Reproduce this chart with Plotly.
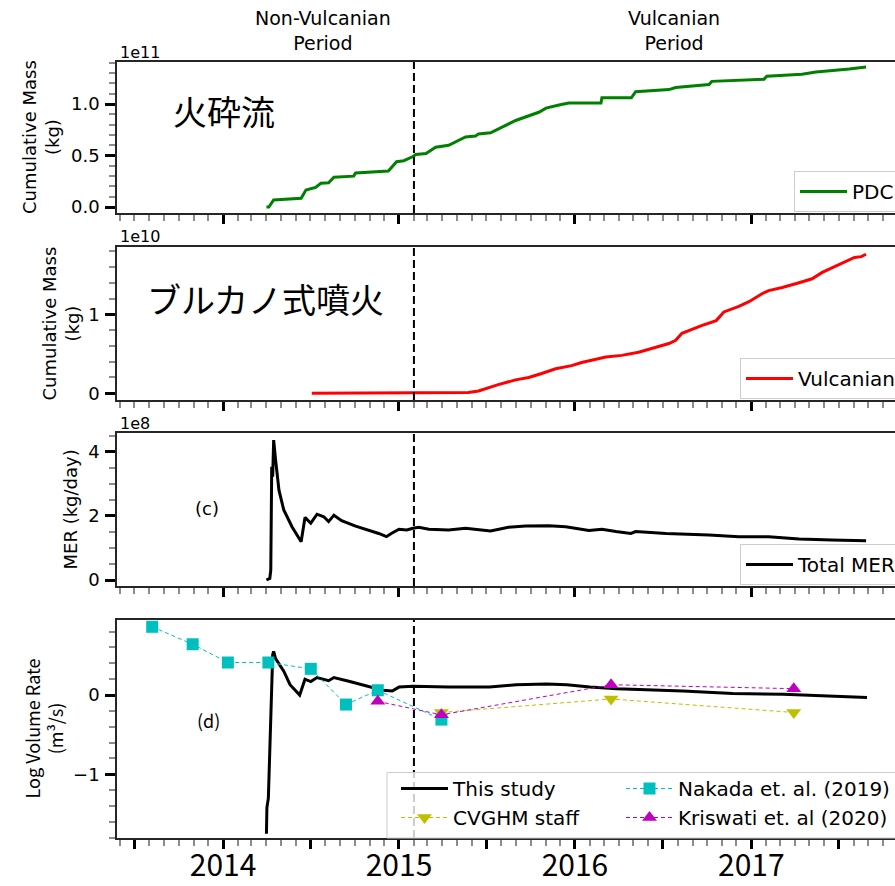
import plotly.graph_objects as go

# ---------------- data ----------------
# (a) cumulative PDC mass, kg
pdc_dates = ["2014-04-01", "2014-04-06", "2014-04-16", "2014-06-12", "2014-06-22", "2014-07-12",
             "2014-07-23", "2014-08-08", "2014-08-19", "2014-09-29", "2014-10-03", "2014-12-10",
             "2014-12-27", "2015-01-11", "2015-01-30", "2015-02-05", "2015-02-26", "2015-03-18",
             "2015-04-14", "2015-05-19", "2015-06-09", "2015-06-15", "2015-07-10", "2015-08-16",
             "2015-08-31", "2015-10-18", "2015-11-02", "2015-11-29", "2015-12-19", "2016-02-24",
             "2016-02-26", "2016-04-27", "2016-05-06", "2016-07-14", "2016-07-28", "2016-10-05",
             "2016-10-11", "2017-01-27", "2017-02-02", "2017-04-16", "2017-05-15", "2017-07-23",
             "2017-08-17", "2017-08-27"]
pdc_mass = [0.0, 0.0, 0.068e11, 0.085e11, 0.165e11, 0.19e11,
            0.23e11, 0.235e11, 0.29e11, 0.30e11, 0.33e11, 0.35e11,
            0.44e11, 0.45e11, 0.49e11, 0.51e11, 0.52e11, 0.58e11,
            0.60e11, 0.68e11, 0.69e11, 0.71e11, 0.72e11, 0.81e11,
            0.84e11, 0.92e11, 0.96e11, 0.99e11, 1.01e11, 1.01e11,
            1.06e11, 1.06e11, 1.12e11, 1.14e11, 1.16e11, 1.19e11,
            1.22e11, 1.24e11, 1.27e11, 1.29e11, 1.31e11, 1.34e11,
            1.35e11, 1.36e11]

# (b) cumulative Vulcanian mass, kg
vul_dates = ["2014-07-04", "2015-05-25", "2015-06-15", "2015-06-29", "2015-07-26", "2015-08-31",
             "2015-09-27", "2015-10-24", "2015-11-22", "2015-12-25", "2016-01-15", "2016-03-05",
             "2016-04-07", "2016-05-12", "2016-06-09", "2016-07-14", "2016-07-28", "2016-08-10",
             "2016-09-21", "2016-10-20", "2016-11-05", "2016-12-06", "2016-12-27", "2017-01-23",
             "2017-02-06", "2017-03-06", "2017-04-10", "2017-05-07", "2017-05-28", "2017-06-26",
             "2017-07-17", "2017-08-03", "2017-08-17", "2017-08-27"]
vul_mass = [0.0, 0.01e10, 0.03e10, 0.06e10, 0.11e10, 0.17e10,
            0.20e10, 0.25e10, 0.31e10, 0.35e10, 0.39e10, 0.46e10,
            0.48e10, 0.52e10, 0.57e10, 0.63e10, 0.67e10, 0.76e10,
            0.86e10, 0.92e10, 1.03e10, 1.10e10, 1.16e10, 1.26e10,
            1.30e10, 1.34e10, 1.40e10, 1.45e10, 1.53e10, 1.61e10,
            1.67e10, 1.72e10, 1.73e10, 1.76e10]

# (c) total mass eruption rate, kg/day
mer_dates = ["2014-04-01", "2014-04-08", "2014-04-10", "2014-04-12", "2014-04-14", "2014-04-16",
             "2014-04-20", "2014-04-27", "2014-05-07", "2014-05-24", "2014-06-12", "2014-06-20",
             "2014-07-02", "2014-07-15", "2014-07-29", "2014-08-08", "2014-08-19", "2014-09-04",
             "2014-10-03", "2014-10-30", "2014-11-20", "2014-12-06", "2014-12-16", "2015-01-01",
             "2015-01-17", "2015-01-30", "2015-02-11", "2015-03-04", "2015-04-14", "2015-05-19",
             "2015-06-15", "2015-07-10", "2015-08-16", "2015-09-21", "2015-11-08", "2015-12-13",
             "2016-01-30", "2016-02-26", "2016-03-26", "2016-04-26", "2016-05-06", "2016-07-08",
             "2016-10-05", "2016-12-06", "2017-02-06", "2017-04-10", "2017-06-17", "2017-08-27"]
mer_vals = [0.0, 0.05e8, 0.31e8, 3.53e8, 3.22e8, 4.36e8,
            3.74e8, 2.80e8, 2.18e8, 1.66e8, 1.19e8, 1.95e8,
            1.77e8, 2.05e8, 1.97e8, 1.82e8, 2.02e8, 1.85e8,
            1.68e8, 1.56e8, 1.45e8, 1.35e8, 1.45e8, 1.58e8,
            1.56e8, 1.61e8, 1.64e8, 1.58e8, 1.56e8, 1.61e8,
            1.56e8, 1.53e8, 1.64e8, 1.68e8, 1.69e8, 1.66e8,
            1.54e8, 1.58e8, 1.51e8, 1.45e8, 1.51e8, 1.45e8,
            1.40e8, 1.35e8, 1.35e8, 1.28e8, 1.25e8, 1.22e8]

# (d) log10 volume rate, m3/s
lvr_dates = ["2014-04-01", "2014-04-02", "2014-04-05", "2014-04-09", "2014-04-12", "2014-04-14",
             "2014-04-16", "2014-04-20", "2014-05-07", "2014-05-20", "2014-06-09", "2014-06-20",
             "2014-07-02", "2014-07-15", "2014-08-08", "2014-08-19", "2014-09-21", "2014-10-26",
             "2014-11-28", "2014-12-18", "2015-01-01", "2015-01-30", "2015-03-12", "2015-04-14",
             "2015-07-08", "2015-09-01", "2015-11-03", "2015-12-15", "2016-02-01", "2016-03-28",
             "2016-08-12", "2016-11-23", "2017-03-08", "2017-08-29"]
lvr_vals = [-1.75, -1.42, -1.30, -0.48, 0.36, 0.51,
            0.55, 0.46, 0.30, 0.13, 0.00, 0.20,
            0.17, 0.22, 0.18, 0.22, 0.17, 0.11,
            0.06, 0.05, 0.10, 0.11, 0.10, 0.10,
            0.10, 0.13, 0.14, 0.13, 0.10, 0.08,
            0.05, 0.02, 0.01, -0.03]

nakada_dates = ["2013-08-07", "2013-10-30", "2014-01-11", "2014-04-05", "2014-07-02",
                "2014-09-13", "2014-11-18", "2015-03-30"]
nakada_vals = [0.86, 0.64, 0.41, 0.41, 0.33, -0.12, 0.06, -0.31]

cvghm_dates = ["2015-03-30", "2016-03-16", "2017-03-30"]
cvghm_vals = [-0.22, -0.05, -0.22]

kriswati_dates = ["2014-11-18", "2015-03-30", "2016-03-16", "2017-03-30"]
kriswati_vals = [-0.08, -0.25, 0.13, 0.08]

# shared time axis
x_range = ["2013-05-26", "2017-10-26"]
x_tickvals = ["2013-07-01", "2014-01-01", "2014-07-01", "2015-01-01", "2015-07-01",
              "2016-01-01", "2016-07-01", "2017-01-01", "2017-07-01"]
x_ticktext = ["", "2014", "", "2015", "", "2016", "", "2017", ""]
vulcanian_onset = "2015-02-01"

# ---------------- figure ----------------
W, H = 895, 886
ML, MR, MT, MB = 117, 0, 62, 48
PW, PH = W - ML - MR, H - MT - MB


def px_x(px):
    return (px - ML) / PW


def px_y(py):
    return (H - MB - py) / PH


domains = [
    [px_y(213), px_y(62)],
    [px_y(400), px_y(247)],
    [px_y(586), px_y(433)],
    [px_y(838), px_y(620)],
]

BASE = "DejaVu Sans"
CJK = "Noto Sans CJK JP"
SPINE = "#262626"
MINOR = "#8c8c8c"

fig = go.Figure()

fig.add_trace(go.Scatter(x=pdc_dates, y=pdc_mass, mode="lines", name="PDC",
                         line=dict(color="#008000", width=3), xaxis="x", yaxis="y",
                         legend="legend"))
fig.add_trace(go.Scatter(x=vul_dates, y=vul_mass, mode="lines", name="Vulcanian",
                         line=dict(color="#ff0000", width=3), xaxis="x2", yaxis="y2",
                         legend="legend2"))
fig.add_trace(go.Scatter(x=mer_dates, y=mer_vals, mode="lines", name="Total MER",
                         line=dict(color="black", width=3), xaxis="x3", yaxis="y3",
                         legend="legend3"))
fig.add_trace(go.Scatter(x=lvr_dates, y=lvr_vals, mode="lines", name="This study",
                         line=dict(color="black", width=3), xaxis="x4", yaxis="y4",
                         legend="legend4"))
fig.add_trace(go.Scatter(x=cvghm_dates, y=cvghm_vals, mode="lines+markers", name="CVGHM staff",
                         line=dict(color="#bfbf00", width=1, dash="4px,3px"),
                         marker=dict(symbol="triangle-down", size=13, color="#bfbf00"),
                         xaxis="x4", yaxis="y4", legend="legend4"))
fig.add_trace(go.Scatter(x=nakada_dates, y=nakada_vals, mode="lines+markers",
                         name="Nakada et. al. (2019)",
                         line=dict(color="#00bfbf", width=1, dash="4px,3px"),
                         marker=dict(symbol="square", size=12, color="#00bfbf"),
                         xaxis="x4", yaxis="y4", legend="legend5"))
fig.add_trace(go.Scatter(x=kriswati_dates, y=kriswati_vals, mode="lines+markers",
                         name="Kriswati et. al (2020)",
                         line=dict(color="#bf00bf", width=1, dash="4px,3px"),
                         marker=dict(symbol="triangle-up", size=13, color="#bf00bf"),
                         xaxis="x4", yaxis="y4", legend="legend5"))

xcommon = dict(type="date", range=x_range, domain=[0, 1], showgrid=False, zeroline=False,
               showline=True, linecolor=SPINE, linewidth=1.5, mirror=True,
               tickmode="array", tickvals=x_tickvals, ticktext=x_ticktext,
               ticks="outside", ticklen=9, tickwidth=2.5, tickcolor="black",
               minor=dict(tick0="2013-05-01", dtick="M1", ticks="outside", ticklen=6,
                          tickwidth=1.5, tickcolor=MINOR, showgrid=False))

ycfg = [
    dict(range=[-0.058e11, 1.408e11], tickvals=[0, 0.5e11, 1.0e11], ticktext=["0.0", "0.5", "1.0"],
         minor_dtick=0.1e11),
    dict(range=[-0.085e10, 1.852e10], tickvals=[0, 1e10], ticktext=["0", "1"], minor_dtick=0.2e10),
    dict(range=[-0.187e8, 4.58e8], tickvals=[0, 2e8, 4e8], ticktext=["0", "2", "4"],
         minor_dtick=0.5e8),
    dict(range=[-1.803, 0.946], tickvals=[-1, 0], ticktext=["\u22121", "0"], minor_dtick=0.2),
]

layout_axes = {}
for i in range(4):
    sfx = "" if i == 0 else str(i + 1)
    xa = dict(xcommon)
    xa["anchor"] = "y" + sfx
    if i > 0:
        xa["matches"] = "x"
    xa["showticklabels"] = (i == 3)
    if i == 3:
        xa["tickfont"] = dict(family=CJK, size=30, color="black")
        xa["ticklabelstandoff"] = -9
    layout_axes["xaxis" + sfx] = xa
    c = ycfg[i]
    layout_axes["yaxis" + sfx] = dict(
        domain=domains[i], anchor="x" + sfx, range=c["range"], showgrid=False, zeroline=False,
        showline=True, linecolor=SPINE, linewidth=1.5, mirror=False,
        tickmode="array", tickvals=c["tickvals"], ticktext=c["ticktext"],
        ticks="outside", ticklen=10, tickwidth=2.5, tickcolor="black",
        tickfont=dict(family=BASE, size=18, color="black"), ticklabelstandoff=2,
        minor=dict(tick0=0, dtick=c["minor_dtick"], ticks="outside", ticklen=6,
                   tickwidth=1.5, tickcolor=MINOR, showgrid=False))

fig.update_layout(**layout_axes)

# dashed line marking the onset of the Vulcanian period, one per panel
shapes = []
for i in range(4):
    sfx = "" if i == 0 else str(i + 1)
    shapes.append(dict(type="line", xref="x" + sfx, yref="y" + sfx + " domain",
                       x0=vulcanian_onset, x1=vulcanian_onset, y0=0, y1=1,
                       line=dict(color="black", width=2, dash="8px,4px"), layer="above"))
# frame behind the two-column legend of panel (d)
shapes.append(dict(type="rect", xref="paper", yref="paper",
                   x0=px_x(387), x1=px_x(905), y0=px_y(838), y1=px_y(772.5),
                   fillcolor="rgba(255,255,255,0.8)", line=dict(color="#cccccc", width=1),
                   layer="above"))

legend_box = dict(bgcolor="rgba(255,255,255,0.8)", bordercolor="#cccccc", borderwidth=1,
                  font=dict(family=BASE, size=20, color="black"), xanchor="left",
                  yanchor="bottom", tracegroupgap=0, itemwidth=47, visible=True)
legend_free = dict(bgcolor="rgba(0,0,0,0)", borderwidth=0,
                   font=dict(family=BASE, size=20, color="black"), xanchor="left",
                   yanchor="top", tracegroupgap=0, itemwidth=47, visible=True)

annotations = [
    dict(text="火砕流", x=px_x(224), y=px_y(110), font=dict(family=CJK, size=34)),
    dict(text="ブルカノ式噴火", x=px_x(265), y=px_y(298), font=dict(family=CJK, size=34)),
    dict(text="(c)", x=px_x(207), y=px_y(509), font=dict(family=BASE, size=18)),
    dict(text="(d)", x=px_x(208), y=px_y(720), font=dict(family=CJK, size=18)),
    dict(text="1e11", x=px_x(118), y=px_y(52), xanchor="left", font=dict(family=BASE, size=16)),
    dict(text="1e10", x=px_x(118), y=px_y(237), xanchor="left", font=dict(family=BASE, size=16)),
    dict(text="1e8", x=px_x(118), y=px_y(423), xanchor="left", font=dict(family=BASE, size=16)),
    dict(text="Non-Vulcanian<br>Period", x=px_x(323), y=px_y(31), font=dict(family=BASE, size=19)),
    dict(text="Vulcanian<br>Period", x=px_x(674), y=px_y(31), font=dict(family=BASE, size=19)),
    dict(text="Cumulative Mass<br>(kg)", x=px_x(40.5), y=px_y(137.5), textangle=-90,
         font=dict(family=BASE, size=18)),
    dict(text="Cumulative Mass<br>(kg)", x=px_x(60), y=px_y(323.5), textangle=-90,
         font=dict(family=BASE, size=18)),
    dict(text="MER (kg/day)", x=px_x(70), y=px_y(509.5), textangle=-90,
         font=dict(family=BASE, size=18)),
    dict(text="Log Volume Rate<br>(m³/s)", x=px_x(42.5), y=px_y(729), textangle=-90,
         font=dict(family=CJK, size=18)),
]
for a in annotations:
    a.update(xref="paper", yref="paper", showarrow=False)
    a.setdefault("xanchor", "center")
    a["yanchor"] = "middle"
    a["font"]["color"] = "black"

fig.update_layout(
    width=W, height=H,
    margin=dict(l=ML, r=MR, t=MT, b=MB, autoexpand=False),
    paper_bgcolor="white", plot_bgcolor="white",
    font=dict(family=BASE, size=18, color="black"),
    showlegend=True,
    shapes=shapes, annotations=annotations,
    legend=dict(legend_box, x=px_x(794), y=px_y(212)),
    legend2=dict(legend_box, x=px_x(740), y=px_y(399)),
    legend3=dict(legend_box, x=px_x(740), y=px_y(585)),
    legend4=dict(legend_free, x=px_x(396), y=px_y(769)),
    legend5=dict(legend_free, x=px_x(621), y=px_y(769)),
)

fig.write_html("out.html")
